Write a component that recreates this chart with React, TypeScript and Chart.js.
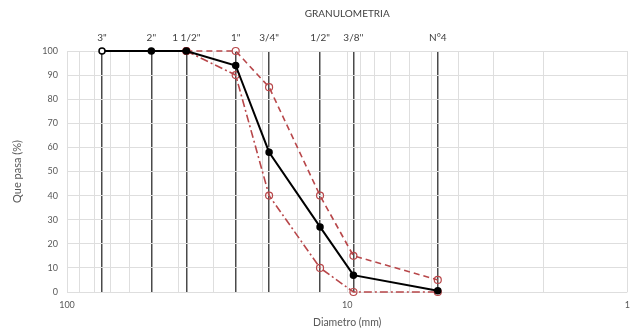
import React, { useEffect, useRef } from 'react';
import { Chart, registerables } from 'chart.js';

Chart.register(...registerables);

const sieveSizes = [75, 50, 37.5, 25, 19, 12.5, 9.5, 4.75];
const sieveLabels = ['3"', '2"', '1 1/2"', '1"', '3/4"', '1/2"', "3/8''", 'N°4'];
const passing = [100, 100, 100, 94, 58, 27, 7, 0.5];
const limitSizes = [37.5, 25, 19, 12.5, 9.5, 4.75];
const upperLimit = [100, 100, 85, 40, 15, 5];
const lowerLimit = [100, 90, 40, 10, 0, 0];
const xLabelValues = [1, 10, 100];

const FONT = 'Lato, "Liberation Sans", sans-serif';
const RED = '#b8474a';

export default function App() {
  const ref = useRef<HTMLCanvasElement>(null);
  useEffect(() => {
    if (!ref.current) return;
    const chart = new Chart(ref.current, {
      type: 'line',
      data: {
        datasets: [
          {
            label: 'Muestra',
            data: sieveSizes.map((x, i) => ({ x, y: passing[i] })),
            borderColor: '#000',
            borderWidth: 2,
            pointRadius: 3,
            pointBorderWidth: 1.5,
            pointBorderColor: '#000',
            pointBackgroundColor: sieveSizes.map((_, i) => (i === 0 ? '#fff' : '#000')),
            xAxisID: 'x',
            yAxisID: 'y',
            order: 1,
          },
          {
            label: 'Limite superior',
            data: limitSizes.map((x, i) => ({ x, y: upperLimit[i] })),
            borderColor: RED,
            borderWidth: 1.6,
            borderDash: [6, 4],
            pointRadius: 3.5,
            pointBorderWidth: 1.2,
            pointBorderColor: RED,
            pointBackgroundColor: limitSizes.map((_, i) => (i === 0 ? RED : 'rgba(0,0,0,0)')),
            xAxisID: 'x',
            yAxisID: 'y',
            order: 2,
          },
          {
            label: 'Limite inferior',
            data: limitSizes.map((x, i) => ({ x, y: lowerLimit[i] })),
            borderColor: RED,
            borderWidth: 1.6,
            borderDash: [8, 3, 2, 3],
            pointRadius: 3.5,
            pointBorderWidth: 1.2,
            pointBorderColor: RED,
            pointBackgroundColor: limitSizes.map((_, i) => (i === 0 ? RED : 'rgba(0,0,0,0)')),
            xAxisID: 'x',
            yAxisID: 'y',
            order: 3,
          },
        ],
      },
      options: {
        animation: false,
        responsive: false,
        maintainAspectRatio: false,
        layout: { padding: { left: 0, right: 8, top: 0, bottom: 0 } },
        elements: { line: { tension: 0 } },
        clip: false as any,
        plugins: {
          legend: { display: false },
          tooltip: { enabled: false },
          title: { display: false },
        },
        scales: {
          x: {
            type: 'logarithmic',
            position: 'bottom',
            reverse: true,
            min: 1,
            max: 100,
            afterFit: (s: any) => {
              s.height = 42;
            },
            grid: { color: '#dedede', lineWidth: 1, drawTicks: false },
            border: { display: false },
            ticks: {
              autoSkip: false,
              maxRotation: 0,
              padding: 8,
              color: '#595959',
              font: { family: FONT, size: 9 },
              callback: (v: any) => (xLabelValues.includes(Number(v)) ? String(v) : ''),
            },
            title: {
              display: true,
              text: 'Diametro (mm)',
              color: '#595959',
              font: { family: FONT, size: 10.5 },
              padding: { top: 4, bottom: 5 },
            },
          },
          xTop: {
            type: 'logarithmic',
            position: 'top',
            reverse: true,
            min: 1,
            max: 100,
            afterBuildTicks: (s: any) => {
              s.ticks = sieveSizes.map((v) => ({ value: v }));
            },
            afterFit: (s: any) => {
              s.height = 51;
            },
            grid: { color: '#4a4a4a', lineWidth: 1.5, drawTicks: false },
            border: { display: false },
            ticks: {
              autoSkip: false,
              maxRotation: 0,
              padding: 7,
              color: '#404040',
              font: { family: FONT, size: 10 },
              callback: (_v: any, i: number) => sieveLabels[i],
            },
            title: {
              display: true,
              text: 'GRANULOMETRIA',
              color: '#404040',
              font: { family: FONT, size: 10 },
              padding: { top: 8, bottom: 4 },
            },
          },
          y: {
            type: 'linear',
            min: 0,
            max: 100,
            afterFit: (s: any) => {
              s.width = 67;
            },
            grid: { color: '#dedede', lineWidth: 1, drawTicks: false },
            border: { display: false },
            ticks: {
              stepSize: 10,
              padding: 9,
              color: '#595959',
              font: { family: FONT, size: 9 },
            },
            title: {
              display: true,
              text: 'Que pasa (%)',
              color: '#595959',
              font: { family: FONT, size: 11 },
              padding: { top: 11, bottom: 4 },
            },
          },
        },
      } as any,
    });
    return () => chart.destroy();
  }, []);
  return (
    <div style={{ position: 'fixed', left: 0, top: 0, width: 638, height: 334, background: '#fff' }}>
      <canvas ref={ref} width={638} height={334} style={{ width: 638, height: 334, display: 'block' }} />
    </div>
  );
}
